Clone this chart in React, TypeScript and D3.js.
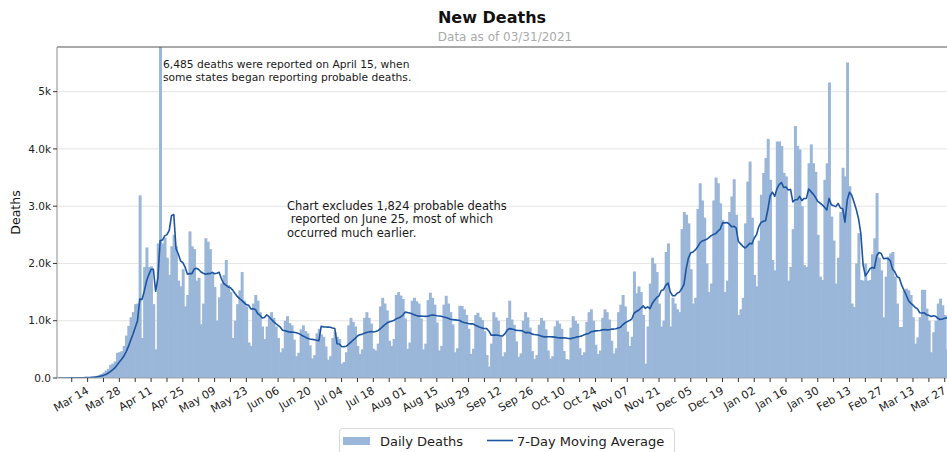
import React, { useEffect, useRef } from 'react';
import * as d3 from 'd3';

// first day of the daily series (a Sunday); one row below = one week, Sun..Sat
const seriesStart = '2020-03-01';

const dailyDeaths = [
  0, 1, 1, 2, 1, 2, 3,
  2, 4, 6, 7, 9, 10, 12,
  14, 20, 28, 40, 55, 70, 95,
  130, 160, 230, 250, 290, 440, 450,
  470, 560, 740, 910, 1060, 1150, 1290,
  1300, 3190, 700, 1940, 2280, 1940, 1950,
  1290, 500, 2350, 6485, 2350, 2450, 2100,
  1800, 2300, 2500, 2300, 1700, 1600, 1900,
  1250, 1450, 2560, 2300, 2250, 1700, 1750,
  940, 1300, 2440, 2380, 2250, 1850, 1590,
  1000, 1410, 1650, 1800, 2060, 1620, 1500,
  700, 1000, 1290, 1530, 1850, 1350, 1250,
  620, 560, 1300, 1450, 1350, 1150, 900,
  680, 900, 1060, 1150, 1050, 900, 700,
  450, 520, 1000, 1080, 960, 920, 670,
  380, 440, 850, 920, 820, 780, 570,
  340, 400, 780, 860, 760, 720, 550,
  320, 380, 700, 800, 720, 680, 250,
  280, 450, 920, 1050, 980, 900, 560,
  420, 500, 1050, 1150, 1050, 950, 510,
  480, 600, 1250, 1400, 1300, 1180, 650,
  560, 680, 1450, 1500, 1440, 1380, 1040,
  510, 620, 1350, 1400, 1340, 1300, 1040,
  500, 600, 1360, 1490, 1400, 1280, 970,
  480, 560, 1280, 1435, 1300, 1150, 935,
  450, 520, 1260, 1260, 1200, 1100, 860,
  420, 510, 1100, 1140, 1060, 1010, 815,
  400, 200, 600, 1150, 1060, 1000, 750,
  380, 450, 1050, 1350, 1020, 930, 640,
  370, 430, 1000, 1150, 1060, 880, 470,
  330, 400, 930, 1050, 1000, 850, 480,
  340, 380, 900, 1000, 950, 860, 470,
  330, 320, 880, 1080, 1000, 950, 520,
  400, 450, 980, 1150, 1200, 1000, 580,
  420, 480, 1050, 1200, 1150, 1020, 650,
  430, 520, 1150, 1280, 1450, 1250, 810,
  560, 720, 1860, 1480, 1600, 1500, 1100,
  250, 900, 1650, 2100, 2000, 1850, 1300,
  900, 1000, 2200, 2350, 900, 1400, 1300,
  1200, 1150, 2600, 2900, 2850, 2700, 1900,
  1300, 1400, 2950, 3400, 3100, 2800, 2000,
  1500, 1650, 3100, 3500, 3400, 3050, 2760,
  1500, 1700, 2900, 3170, 3470, 2850, 1100,
  1200, 1400, 2700, 3430, 3780, 2800, 1800,
  1600, 2400, 3200, 3580, 3840, 4175, 3460,
  2060, 1880, 4130, 4130, 4050, 3580, 3520,
  1700, 1940, 2600, 4400, 4050, 3990, 3000,
  1970, 1940, 3750, 4080, 3750, 3600, 2500,
  1770, 1710, 3460, 3750, 5160, 2820, 2400,
  1650, 2100, 2900, 3670, 3520, 5510, 3350,
  1300, 1240, 2000, 2530, 1710, 1700, 2000,
  1700, 1710, 2160, 2440, 3230, 2100, 1880,
  1060, 1770, 2120, 2175, 2200, 1770, 1300,
  890, 890, 1530, 1560, 1530, 1450, 1060,
  600, 710, 1060, 1540, 1540, 1210, 1000,
  450, 800, 1000, 1300, 1385, 1270, 1100,
  500, 700, 1200, 1150,
];

// probable deaths reported on June 25: left out of the bars, kept in the average
const excludedDate = '2020-06-25';
const excludedDeaths = 1824;

const yTicks = [0, 1000, 2000, 3000, 4000, 5000];
const yTickLabels = ['0.0', '1.0k', '2.0k', '3.0k', '4.0k', '5k'];

const spikeNote = [
  '6,485 deaths were reported on April 15, when',
  'some states began reporting probable deaths.',
];
const excludeNote = [
  'Chart excludes 1,824 probable deaths',
  ' reported on June 25, most of which',
  'occurred much earlier.',
];

const legendLabels = ['Daily Deaths', '7-Day Moving Average'];

const BAR = '#9ab6d8';
const LINE = '#1d55a2';
const FONT = 'DejaVu Sans, sans-serif';

const NewDeaths = () => {
  const svgRef = useRef<SVGSVGElement>(null);

  useEffect(() => {
    const W = 947, H = 452;
    const left = 57, right = 947, top = 47, bottom = 378;

    const svg = d3.select(svgRef.current);
    svg.selectAll('*').remove();
    svg.attr('width', W).attr('height', H);

    const start = d3.utcParse('%Y-%m-%d')(seriesStart) as Date;
    const dates = dailyDeaths.map((_, i) => d3.utcDay.offset(start, i));
    const exDate = d3.utcParse('%Y-%m-%d')(excludedDate) as Date;

    // 7-day trailing average, probable deaths included
    const withProbable = dailyDeaths.map((v, i) => (+dates[i] === +exDate ? v + excludedDeaths : v));
    const avg = withProbable.map((_, i) => d3.mean(withProbable.slice(Math.max(0, i - 6), i + 1)) as number);

    const x = d3.scaleUtc()
      .domain([d3.utcHour.offset(start, -12), d3.utcDay.offset(start, 392)])
      .range([left, right]);
    const y = d3.scaleLinear().domain([0, 5780]).range([bottom, top]);
    const dayW = x(d3.utcDay.offset(start, 1)) - x(start);

    svg.append('defs').append('clipPath').attr('id', 'plot-clip')
      .append('rect').attr('x', left).attr('y', top).attr('width', right - left).attr('height', bottom - top);

    // grid
    svg.append('g').selectAll('line').data(yTicks.slice(1)).join('line')
      .attr('x1', left).attr('x2', right)
      .attr('y1', d => y(d)).attr('y2', d => y(d))
      .attr('stroke', '#e4e4e4').attr('stroke-width', 1);

    const plot = svg.append('g').attr('clip-path', 'url(#plot-clip)');

    plot.append('g').selectAll('rect').data(dailyDeaths).join('rect')
      .attr('x', (_, i) => x(dates[i]) - dayW / 2)
      .attr('width', dayW + 0.7)
      .attr('y', d => y(d))
      .attr('height', d => bottom - y(d))
      .attr('fill', BAR);

    const line = d3.line<number>()
      .x((_, i) => x(dates[i]))
      .y(d => y(d));
    plot.append('path').datum(avg)
      .attr('d', line)
      .attr('fill', 'none')
      .attr('stroke', LINE)
      .attr('stroke-width', 1.6)
      .attr('stroke-linejoin', 'round');

    // spines
    svg.append('line').attr('x1', left).attr('x2', right).attr('y1', top).attr('y2', top)
      .attr('stroke', '#555').attr('stroke-width', 1.2);
    svg.append('line').attr('x1', left).attr('x2', left).attr('y1', top).attr('y2', bottom)
      .attr('stroke', '#a0a0a0').attr('stroke-width', 1.2);
    svg.append('line').attr('x1', left).attr('x2', right).attr('y1', bottom).attr('y2', bottom)
      .attr('stroke', '#a0a0a0').attr('stroke-width', 1.2);

    // y axis
    const yAxis = svg.append('g');
    yAxis.selectAll('line').data(yTicks).join('line')
      .attr('x1', left - 4).attr('x2', left)
      .attr('y1', d => y(d)).attr('y2', d => y(d))
      .attr('stroke', '#333');
    yAxis.selectAll('text').data(yTicks).join('text')
      .attr('x', left - 6).attr('y', d => y(d)).attr('dy', '0.35em')
      .attr('text-anchor', 'end')
      .style('font-family', FONT).style('font-size', '10.5px').style('fill', '#222')
      .text((_, i) => yTickLabels[i]);
    svg.append('text')
      .attr('transform', `translate(20,${(top + bottom) / 2}) rotate(-90)`)
      .attr('text-anchor', 'middle')
      .style('font-family', FONT).style('font-size', '12.5px').style('fill', '#111')
      .text('Deaths');

    // x axis: weekly ticks, label every other week
    const ticks = d3.utcSaturday.range(new Date(Date.UTC(2020, 2, 7)), d3.utcDay.offset(start, 392));
    const firstLabel = new Date(Date.UTC(2020, 2, 14));
    const fmt = d3.utcFormat('%b %d');
    const xAxis = svg.append('g');
    xAxis.selectAll('line').data(ticks).join('line')
      .attr('x1', d => x(d)).attr('x2', d => x(d))
      .attr('y1', bottom).attr('y2', bottom + 4)
      .attr('stroke', '#333');
    const labelled = ticks.filter(d => d3.utcDay.count(firstLabel, d) % 14 === 0);
    xAxis.selectAll('text').data(labelled).join('text')
      .attr('transform', d => `translate(${x(d) - 2},${bottom + 8}) rotate(-30)`)
      .attr('text-anchor', 'end').attr('dy', '0.72em')
      .style('font-family', FONT).style('font-size', '11px').style('fill', '#222')
      .text(d => fmt(d));

    // title
    svg.append('text').attr('x', 492).attr('y', 23).attr('text-anchor', 'middle')
      .style('font-family', FONT).style('font-size', '16px').style('font-weight', 'bold').style('fill', '#111')
      .text('New Deaths');
    svg.append('text').attr('x', 505).attr('y', 41).attr('text-anchor', 'middle')
      .style('font-family', FONT).style('font-size', '12px').style('fill', '#aaa')
      .text('Data as of 03/31/2021');

    // notes
    const note = (lines: string[], nx: number, ny: number, size: number, gap: number) => {
      const t = svg.append('text').attr('x', nx).attr('y', ny)
        .style('font-family', FONT).style('font-size', `${size}px`).style('fill', '#1a1a1a')
        .style('white-space', 'pre');
      lines.forEach((s, i) => t.append('tspan').attr('x', nx).attr('dy', i === 0 ? 0 : gap).text(s));
    };
    note(spikeNote, 163, 68, 10.7, 13);
    note(excludeNote, 287, 210, 11.5, 13.4);

    // legend
    const lg = svg.append('g');
    lg.append('rect').attr('x', 339.5).attr('y', 428.5).attr('width', 335).attr('height', 30).attr('rx', 3)
      .attr('fill', '#fff').attr('stroke', '#d8d8d8');
    lg.append('rect').attr('x', 343).attr('y', 437).attr('width', 27).attr('height', 8).attr('fill', BAR);
    lg.append('line').attr('x1', 487).attr('x2', 513).attr('y1', 440.5).attr('y2', 440.5)
      .attr('stroke', LINE).attr('stroke-width', 1.6);
    lg.selectAll('text').data(legendLabels).join('text')
      .attr('x', (_, i) => (i === 0 ? 380 : 517)).attr('y', 445.5)
      .style('font-family', FONT).style('font-size', '13px').style('fill', '#222')
      .text(d => d);
  }, []);

  return <svg ref={svgRef} style={{ position: 'absolute', left: 0, top: 0, background: '#fff' }} />;
};

export default function App() {
  return <NewDeaths />;
}
